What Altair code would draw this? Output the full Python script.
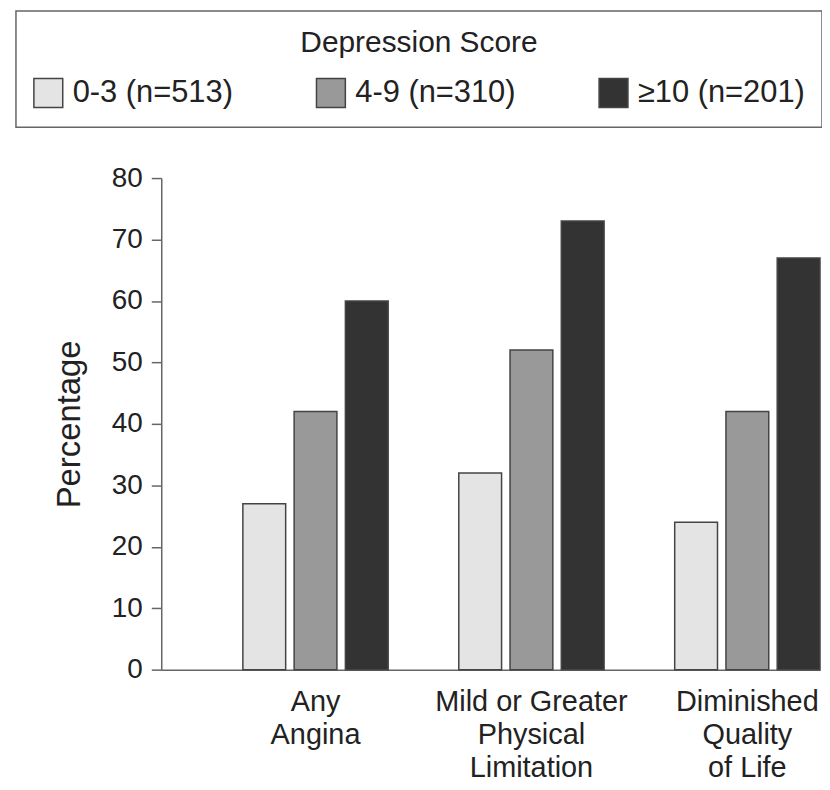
import altair as alt
import pandas as pd

categories = ["Any\nAngina", "Mild or Greater\nPhysical\nLimitation", "Diminished\nQuality\nof Life"]
groups = ["0-3 (n=513)", "4-9 (n=310)", "≥10 (n=201)"]
values_low = [27, 32, 24]
values_mid = [42, 52, 42]
values_high = [60, 73, 67]
colors = ["#e4e4e4", "#999999", "#333333"]
y_ticks = [0, 10, 20, 30, 40, 50, 60, 70, 80]

rows = []
for i, c in enumerate(categories):
    for g, vals in zip(groups, [values_low, values_mid, values_high]):
        rows.append({"category": c, "group": g, "value": vals[i]})
df = pd.DataFrame(rows)

FONT = "Liberation Sans"
TEXT = "#222222"
AXIS = "#666666"

chart = alt.Chart(df).mark_bar(stroke="#444444", strokeWidth=1.5).encode(
    x=alt.X(
        "category:N",
        sort=categories,
        title=None,
        scale=alt.Scale(paddingInner=0.327, paddingOuter=0.189, align=1),
        axis=alt.Axis(
            labelExpr="split(datum.label, '\\n')",
            labelAngle=0,
            labelFontSize=29,
            labelLineHeight=33,
            labelPadding=18,
            labelLimit=400,
            ticks=False,
            tickSize=0,
            domainColor=AXIS,
            domainWidth=1.5,
            labelColor=TEXT,
            labelFont=FONT,
        ),
    ),
    xOffset=alt.XOffset("group:N", sort=groups, scale=alt.Scale(paddingInner=0.165, paddingOuter=0)),
    y=alt.Y(
        "value:Q",
        title="Percentage",
        scale=alt.Scale(domain=[0, 80], nice=False),
        axis=alt.Axis(
            values=y_ticks,
            grid=False,
            labelFontSize=28,
            labelPadding=9,
            tickSize=10,
            tickColor=AXIS,
            tickWidth=1.5,
            domainColor=AXIS,
            domainWidth=1.5,
            labelColor=TEXT,
            labelFont=FONT,
            titleFont=FONT,
            titleFontSize=33,
            titleFontWeight="normal",
            titleColor=TEXT,
            titlePadding=25,
        ),
    ),
    color=alt.Color(
        "group:N",
        sort=groups,
        scale=alt.Scale(domain=groups, range=colors),
        legend=alt.Legend(
            title="Depression Score",
            orient="none",
            legendX=-146,
            legendY=-168,
            direction="horizontal",
            titleAnchor="middle",
            titleFontSize=30,
            titleFontWeight="normal",
            titleFont=FONT,
            titleColor=TEXT,
            titlePadding=20,
            titleLimit=600,
            labelFontSize=31,
            labelFont=FONT,
            labelColor=TEXT,
            labelOffset=9,
            labelLimit=400,
            symbolType="square",
            symbolSize=841,
            symbolStrokeColor="#444444",
            symbolStrokeWidth=1.5,
            columnPadding=80,
            padding=17,
            strokeColor="#666666",
        ),
    ),
).properties(
    width=662,
    height=494,
    padding={"left": 154, "top": 169, "right": 2, "bottom": 111},
    autosize=alt.AutoSizeParams(type="none"),
).configure_view(stroke=None).configure_legend(strokeWidth=1.5)

chart.save("out.html", embed_options={"renderer": "svg", "actions": False})
